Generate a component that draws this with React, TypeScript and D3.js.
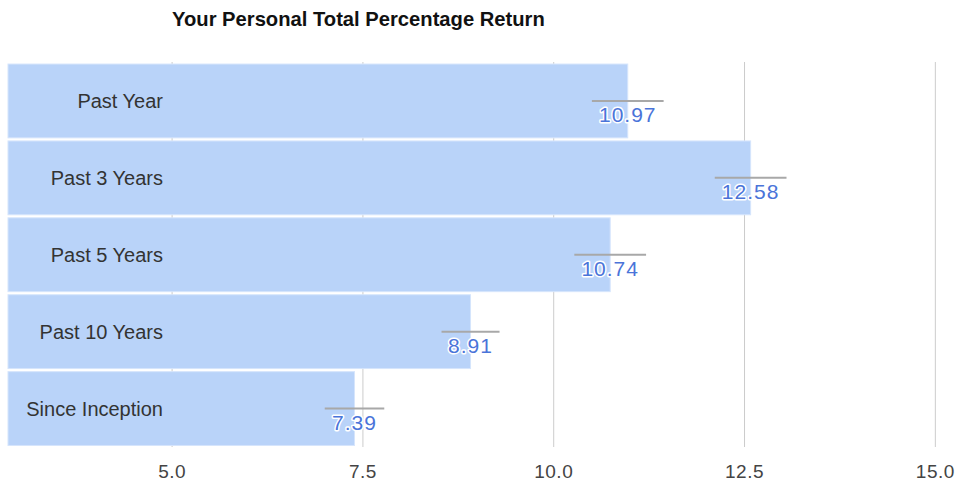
import React, { useEffect, useRef } from 'react';
import * as d3 from 'd3';

const categories = ['Past Year', 'Past 3 Years', 'Past 5 Years', 'Past 10 Years', 'Since Inception'];
const returns = [10.97, 12.58, 10.74, 8.91, 7.39];
const spread = [0.47, 0.47, 0.47, 0.38, 0.39];
const tickValues = [5.0, 7.5, 10.0, 12.5, 15.0];

const App = () => {
  const chartRef = useRef<SVGSVGElement>(null);

  useEffect(() => {
    const width = 959;
    const height = 483;
    const svg = d3.select(chartRef.current)
      .attr('width', width)
      .attr('height', height)
      .style('position', 'absolute')
      .style('left', '0px')
      .style('top', '0px')
      .style('font-family', '"Liberation Sans", Arial, sans-serif');
    svg.selectAll('*').remove();

    const xScale = d3.scaleLinear().domain([2.85, 15.31]).range([8, 959]);
    const yScale = d3.scaleBand<string>()
      .domain(categories)
      .range([62.5, 447])
      .paddingInner(0.04)
      .paddingOuter(0.02);

    svg.append('text')
      .attr('x', 172)
      .attr('y', 26)
      .attr('font-size', 20.2)
      .attr('font-weight', 'bold')
      .attr('fill', '#111')
      .text('Your Personal Total Percentage Return');

    // grid
    svg.append('g')
      .selectAll('line')
      .data(tickValues)
      .enter()
      .append('line')
      .attr('x1', d => xScale(d))
      .attr('x2', d => xScale(d))
      .attr('y1', 62)
      .attr('y2', 447)
      .attr('stroke', '#cccccc')
      .attr('stroke-width', 1);

    const x0 = xScale.domain()[0];
    svg.append('g')
      .selectAll('rect')
      .data(returns)
      .enter()
      .append('rect')
      .attr('x', xScale(x0))
      .attr('y', (d, i) => yScale(categories[i])!)
      .attr('width', d => xScale(d) - xScale(x0))
      .attr('height', yScale.bandwidth())
      .attr('fill', '#b9d3f9')
      .attr('stroke', '#d6e5fc')
      .attr('stroke-width', 1);

    // category labels
    svg.append('g')
      .selectAll('text')
      .data(categories)
      .enter()
      .append('text')
      .attr('x', 163)
      .attr('y', d => yScale(d)! + yScale.bandwidth() / 2)
      .attr('dy', '0.35em')
      .attr('text-anchor', 'end')
      .attr('font-size', 20)
      .attr('fill', '#333')
      .text(d => d);

    // error lines
    svg.append('g')
      .selectAll('line')
      .data(returns)
      .enter()
      .append('line')
      .attr('x1', (d, i) => xScale(d - spread[i]))
      .attr('x2', (d, i) => xScale(d + spread[i]))
      .attr('y1', (d, i) => yScale(categories[i])! + yScale.bandwidth() / 2)
      .attr('y2', (d, i) => yScale(categories[i])! + yScale.bandwidth() / 2)
      .attr('stroke', '#a8a8a8')
      .attr('stroke-width', 2);

    // value labels
    svg.append('g')
      .selectAll('text')
      .data(returns)
      .enter()
      .append('text')
      .attr('x', d => xScale(d))
      .attr('y', (d, i) => yScale(categories[i])! + yScale.bandwidth() / 2 + 21)
      .attr('text-anchor', 'middle')
      .attr('font-size', 21)
      .attr('letter-spacing', 1)
      .attr('fill', '#4a74d9')
      .attr('stroke', '#ffffff')
      .attr('stroke-width', 3)
      .attr('stroke-linejoin', 'round')
      .attr('paint-order', 'stroke')
      .text(d => d.toFixed(2));

    // x axis labels
    svg.append('g')
      .selectAll('text')
      .data(tickValues)
      .enter()
      .append('text')
      .attr('x', d => xScale(d))
      .attr('y', 478)
      .attr('text-anchor', 'middle')
      .attr('font-size', 19)
      .attr('letter-spacing', 0.5)
      .attr('fill', '#444')
      .text(d => d3.format('.1f')(d));
  }, []);

  return <svg ref={chartRef}></svg>;
};

export default App;
